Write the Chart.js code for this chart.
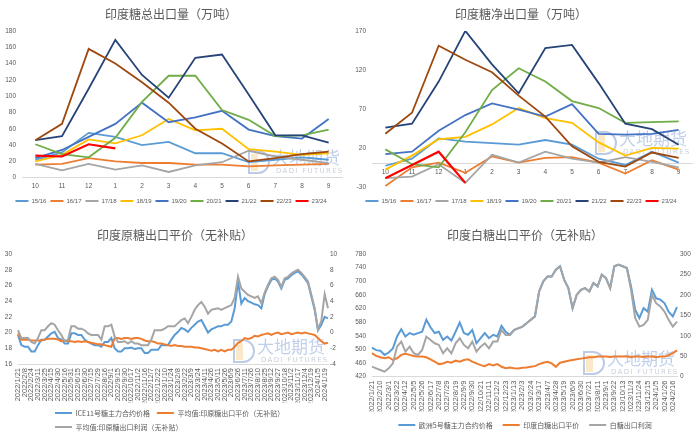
<!DOCTYPE html>
<html>
<head>
<meta charset="utf-8">
<script src="https://cdn.jsdelivr.net/npm/chart.js@4.4.1/dist/chart.umd.min.js"></script>
<style>
  body { margin: 0; background: #fff; }
  .grid { position: relative; width: 700px; height: 437px; overflow: hidden; }
  canvas { position: absolute; }
</style>
</head>
<body>
<div class="grid">
  <canvas id="c1" width="350" height="218" style="left:0;top:0"></canvas>
  <canvas id="c2" width="350" height="218" style="left:350px;top:0"></canvas>
  <canvas id="c3" width="350" height="219" style="left:0;top:218px"></canvas>
  <canvas id="c4" width="350" height="219" style="left:350px;top:218px"></canvas>
</div>
<script>
// ---- top charts: months of the season, one line per season
const months = ['10', '11', '12', '1', '2', '3', '4', '5', '6', '7', '8', '9'];
const seasons = ['15/16', '16/17', '17/18', '18/19', '19/20', '20/21', '21/22', '22/23', '23/24'];
const seasonColors = ['#5B9BD5', '#ED7D31', '#A5A5A5', '#FFC000', '#4472C4', '#70AD47', '#264478', '#9E480E', '#FF0000'];

// 总出口量 (万吨)
const total1516 = [22, 31, 55, 50, 40, 44, 30, 30, 19, 22, 25, 22];
const total1617 = [16, 17, 24, 20, 18, 18, 16, 16, 14, 15, 16, 17];
const total1718 = [17, 9, 17, 10, 15, 7, 15, 19, 33, 26, 22, 18];
const total1819 = [20, 28, 47, 42, 52, 72, 58, 60, 35, 32, 28, 30];
const total1920 = [24, 34, 50, 66, 92, 68, 74, 82, 59, 51, 48, 72];
const total2021 = [41, 29, 25, 49, 93, 125, 125, 83, 71, 51, 52, 59];
const total2122 = [46, 51, 109, 169, 126, 98, 147, 151, 102, 52, 52, 43];
const total2223 = [46, 66, 158, 140, 117, 92, 60, 42, 20, 24, 29, 32];
const total2324 = [27, 26, 41, 36];

// 净出口量 (万吨)
const net1516 = [-3, 6, 32, 28, 26, 24, 30, 24, 6, -2, 15, 1];
const net1617 = [-29, -5, 1, -12, 9, 1, 7, 8, 1, -13, 4, -8];
const net1718 = [-19, -17, -1, -25, 11, 1, 15, 6, 1, 8, 2, -5];
const net1819 = [-8, 10, 31, 34, 50, 71, 58, 52, 27, 10, 20, 19];
const net1920 = [12, 15, 42, 62, 77, 69, 60, 76, 38, 37, 38, 43];
const net2021 = [18, -1, -5, 40, 94, 122, 105, 80, 71, 52, 53, 54];
const net2122 = [46, 51, 105, 170, 127, 90, 148, 152, 103, 51, 44, 24];
const net2223 = [38, 65, 151, 133, 117, 87, 60, 22, 2, -4, 14, 7];
const net2324 = [-19, -2, 15, -25];
const netTicks = [-30, 20, 70, 120, 170];

// ---- bottom left: 原糖
const rawDates = [
  '2022/1/21', '2022/1/31', '2022/2/8', '2022/2/16', '2022/2/24', '2022/3/3', '2022/3/11', '2022/3/18',
  '2022/3/25', '2022/4/6', '2022/4/15', '2022/4/22', '2022/4/30', '2022/5/9', '2022/5/16', '2022/5/24',
  '2022/5/31', '2022/6/8', '2022/6/15', '2022/6/22', '2022/6/30', '2022/7/8', '2022/7/15', '2022/7/22',
  '2022/7/29', '2022/8/8', '2022/8/16', '2022/8/24', '2022/9/1', '2022/9/8', '2022/9/15', '2022/9/22',
  '2022/9/30', '2022/10/10', '2022/10/17', '2022/10/25', '2022/11/2', '2022/11/9', '2022/11/16', '2022/11/28',
  '2022/12/7', '2022/12/14', '2022/12/22', '2022/12/30', '2023/1/10', '2023/1/17', '2023/1/24', '2023/2/1',
  '2023/2/8', '2023/2/15', '2023/2/22', '2023/3/2', '2023/3/9', '2023/3/16', '2023/3/24', '2023/4/3',
  '2023/4/11', '2023/4/18', '2023/4/26', '2023/5/4', '2023/5/11', '2023/5/18', '2023/5/26', '2023/6/2',
  '2023/6/9', '2023/6/16', '2023/6/26', '2023/7/3', '2023/7/11', '2023/7/18', '2023/7/26', '2023/8/3',
  '2023/8/10', '2023/8/17', '2023/8/25', '2023/9/4', '2023/9/12', '2023/9/19', '2023/9/27', '2023/10/9',
  '2023/10/18', '2023/10/25', '2023/11/2', '2023/11/9', '2023/11/17', '2023/11/24', '2023/12/4', '2023/12/11',
  '2023/12/19', '2023/12/27', '2024/1/5', '2024/1/12', '2024/1/19', '2024/1/26'
];
const ice11 = [
  19.7, 18.4, 18.2, 18.2, 17.6, 17.6, 18.4, 19.1, 19.1, 19.5,
  19.9, 20.1, 19.3, 19.1, 18.6, 18.6, 19.9, 19.9, 19.7, 19.7,
  19.1, 18.8, 18.6, 18.4, 18.4, 18.2, 18.8, 18.8, 19.3, 18.0,
  17.6, 17.6, 18.0, 18.0, 18.1, 17.9, 18.0, 18.0, 17.4, 17.4,
  17.8, 17.8, 17.8, 18.4, 18.4, 18.4, 19.1, 19.7, 20.1, 20.6,
  20.4, 20.1, 20.6, 21.0, 21.4, 21.6, 20.8, 20.0, 20.4, 20.6,
  20.8, 20.8, 21.0, 21.0, 21.4, 23.1, 26.5, 23.7, 24.4, 24.0,
  23.8, 23.6, 23.5, 23.1, 24.9, 25.9, 26.7, 26.9, 26.5, 25.6,
  26.7, 26.9, 27.3, 27.6, 27.8, 27.4, 26.9, 26.3, 24.6, 22.9,
  20.3, 21.0, 22.0, 21.8
];
const rawParity = [
  19.9, 19.1, 19.1, 19.1, 19.0, 19.0, 19.0, 19.0, 19.1, 19.2,
  19.2, 19.2, 19.1, 18.9, 19.0, 18.9, 18.9, 18.8, 18.9, 18.8,
  18.9, 18.8, 18.7, 18.6, 18.5, 18.5, 18.4, 18.3, 18.2, 19.3,
  19.3, 19.2, 19.3, 19.3, 19.2, 19.3, 19.3, 19.2, 19.0, 18.9,
  18.9, 18.8, 18.6, 18.6, 18.5, 18.4, 18.3, 18.4, 18.3, 18.3,
  18.2, 18.2, 18.2, 18.1, 18.1, 18.0, 17.9, 17.8, 17.7, 17.8,
  17.6, 17.8, 17.6, 17.8, 17.8, 18.2, 18.7, 18.9, 19.3, 19.2,
  19.3, 19.6, 19.5, 19.7, 19.8, 19.9, 19.7, 19.9, 20.0, 19.8,
  19.9, 20.0, 19.8, 19.9, 20.0, 19.9, 20.0, 19.9, 19.8, 19.7,
  19.3, 18.9, 18.6, 18.7
];
const rawProfit = [
  0.3, -0.7, -0.7, -0.7, -1.2, -1.4, -0.7, 0.3, 0.3, 0.8,
  1.2, 1.0, 0.3, -0.3, -1.1, -0.9, 0.8, 0.8, 0.5, 0.5,
  0.3, -0.1, -0.3, -0.3, -0.3, -0.9, 0.8, 0.8, 1.0, -0.5,
  -1.2, -1.2, -1.1, -1.4, -1.1, -1.4, -1.4, -1.6, -1.6, -1.6,
  -0.9, 0.3, 0.3, 0.3, 0.5, 0.8, 0.8, 0.8, 1.2, 1.6,
  1.8, 1.2, 2.0, 2.9, 3.5, 3.9, 3.3, 2.4, 2.9, 3.0,
  3.1, 2.9, 3.1, 3.3, 3.5, 4.4, 7.1, 5.6, 5.2, 4.8,
  4.6, 4.4, 4.6, 3.7, 5.1, 6.1, 6.9, 7.1, 6.7, 5.8,
  6.9, 7.1, 7.5, 7.8, 8.0, 7.6, 7.1, 6.5, 4.8, 3.1,
  0.4, 1.5, 4.9, 3.1
];

// ---- bottom right: 白糖
const whiteDates = [
  '2022/1/21', '2022/1/31', '2022/2/10', '2022/2/18', '2022/3/1', '2022/3/11', '2022/3/22', '2022/3/31',
  '2022/4/12', '2022/4/22', '2022/5/5', '2022/5/16', '2022/5/26', '2022/6/7', '2022/6/17', '2022/6/27',
  '2022/7/8', '2022/7/19', '2022/7/29', '2022/8/9', '2022/8/19', '2022/8/30', '2022/9/9', '2022/9/20',
  '2022/9/30', '2022/10/11', '2022/10/21', '2022/11/1', '2022/11/11', '2022/11/22', '2022/12/2', '2022/12/13',
  '2022/12/23', '2023/1/3', '2023/1/13', '2023/1/24', '2023/2/3', '2023/2/14', '2023/2/24', '2023/3/7',
  '2023/3/17', '2023/3/28', '2023/4/7', '2023/4/18', '2023/4/28', '2023/5/9', '2023/5/19', '2023/5/30',
  '2023/6/9', '2023/6/20', '2023/6/30', '2023/7/11', '2023/7/21', '2023/8/1', '2023/8/11', '2023/8/22',
  '2023/9/1', '2023/9/12', '2023/9/22', '2023/10/3', '2023/10/13', '2023/10/24', '2023/11/3', '2023/11/14',
  '2023/11/24', '2023/12/5', '2023/12/15', '2023/12/26', '2024/1/5', '2024/1/16', '2024/1/26', '2024/2/6',
  '2024/2/16', '2024/2/28'
];
const london5 = [
  505, 498, 496, 484, 491, 503, 538, 559, 538, 548,
  543, 548, 552, 587, 565, 548, 552, 528, 538, 526,
  552, 579, 548, 543, 557, 518, 533, 548, 533, 543,
  538, 569, 552, 543, 557, 562, 567, 577, 587, 597,
  670, 700, 714, 714, 734, 744, 704, 680, 621, 660,
  675, 680, 670, 695, 685, 719, 709, 680, 744, 749,
  744, 739, 685, 616, 592, 621, 611, 675, 650, 646,
  636, 611, 597, 624
];
const whiteParity = [
  489, 481, 477, 474, 477, 469, 474, 484, 487, 484,
  481, 479, 479, 477, 471, 464, 457, 459, 464, 461,
  467, 464, 469, 471, 464, 459, 454, 451, 457, 453,
  457, 449, 445, 447, 445, 444, 446, 447, 449, 451,
  457, 461, 464, 459, 449, 461, 464, 467, 469, 471,
  473, 475, 477, 477, 479, 479, 479, 478, 479, 479,
  479, 479, 478, 479, 479, 478, 479, 479, 477, 479,
  479, 483, 489, 497
];
const whiteProfit = [
  24.5, 20.4, 16.4, 12.3, 20.4, 32.7, 73.6, 85.8, 61.3, 73.6,
  57.2, 53.2, 65.4, 98.1, 89.9, 81.7, 77.7, 57.2, 69.5, 57.2,
  81.7, 94.0, 77.7, 69.5, 85.8, 61.3, 73.6, 81.7, 69.5, 85.8,
  85.8, 114.4, 102.2, 102.2, 114.4, 118.5, 122.6, 130.8, 139.0, 147.1,
  208.5, 233.0, 245.2, 245.2, 261.6, 269.8, 237.1, 216.6, 167.6, 200.3,
  212.5, 216.6, 208.5, 228.9, 220.7, 249.3, 241.1, 216.6, 269.8, 273.8,
  269.8, 265.7, 212.5, 143.1, 122.6, 126.7, 139.0, 200.3, 179.8, 171.7,
  159.4, 139.0, 122.6, 134.9
];

const cjk = '"Noto Sans CJK SC", sans-serif';
Chart.defaults.font.family = '"Liberation Sans", "Noto Sans CJK SC", sans-serif';
Chart.defaults.color = '#595959';
Chart.defaults.animation = false;

// faint company logo behind the lines
const watermark = {
  id: 'watermark',
  beforeDatasetsDraw(chart, args, opts) {
    const ctx = chart.ctx, x = opts.x, y = opts.y;
    ctx.save();
    ctx.fillStyle = '#fbe8c8';
    ctx.fillRect(x + 3, y + 4, 7, 17);
    ctx.strokeStyle = '#bccbe6';
    ctx.lineWidth = 2;
    ctx.beginPath();
    ctx.moveTo(x + 1, y + 1);
    ctx.lineTo(x + 10, y + 1);
    ctx.arc(x + 10, y + 12, 11, -Math.PI / 2, Math.PI / 2);
    ctx.lineTo(x + 1, y + 23);
    ctx.closePath();
    ctx.stroke();
    ctx.fillStyle = '#c0d0ea';
    ctx.font = '17px ' + cjk;
    ctx.textBaseline = 'top';
    ctx.fillText('大地期货', x + 24, y - 1);
    ctx.fillStyle = '#c9d0da';
    ctx.font = '7px "DejaVu Sans"';
    ctx.letterSpacing = '1.3px';
    ctx.fillText('DADI FUTURES', x + 28, y + 18);
    ctx.restore();
  }
};

// row 2 of the raw sugar legend lines up under row 1
const legendShift = {
  id: 'legendShift',
  beforeDraw(chart, args, opts) {
    if (opts.left !== undefined) chart.legend.left = opts.left;
  }
};

function flatLegendItems(chart) {
  const items = Chart.defaults.plugins.legend.labels.generateLabels(chart);
  items.forEach(it => { it.lineWidth = 0; });
  return items;
}

function seasonSets(series) {
  return series.map((d, i) => ({
    label: seasons[i],
    data: d,
    borderColor: seasonColors[i],
    backgroundColor: seasonColors[i],
    borderWidth: i === 8 ? 2.2 : 1.8,
    pointRadius: 0,
    tension: 0,
    order: -i
  }));
}

function topOptions(title, yScale, xExtra, legendTitle, mark) {
  return {
    responsive: false,
    events: [],
    layout: { padding: { top: 7, left: 0, right: 8, bottom: 4 } },
    plugins: {
      title: { display: true, text: title, color: '#595959', font: { family: cjk, size: 12, weight: 'normal' }, padding: { top: 0, bottom: 9.5 } },
      legend: {
        position: 'bottom',
        title: legendTitle,
        labels: { boxWidth: 13, boxHeight: 2, padding: 4, color: '#595959', font: { size: 6 },
          generateLabels: flatLegendItems, sort: (a, b) => a.datasetIndex - b.datasetIndex }
      },
      tooltip: { enabled: false },
      watermark: mark
    },
    scales: {
      x: Object.assign({
        offset: true,
        grid: { display: false, drawTicks: false },
        border: { color: '#d9d9d9', width: 1 },
        ticks: { color: '#595959', font: { size: 6.5 }, padding: 5 }
      }, xExtra),
      y: yScale
    }
  };
}

new Chart(document.getElementById('c1'), {
  type: 'line',
  data: { labels: months, datasets: seasonSets([total1516, total1617, total1718, total1819, total1920, total2021, total2122, total2223, total2324]) },
  options: topOptions('印度糖总出口量（万吨）', {
    min: 0, max: 180,
    grid: { display: false, drawTicks: false },
    border: { display: false },
    ticks: { stepSize: 20, color: '#595959', font: { size: 6.5 }, padding: 6 },
    afterFit(s) { s.width = 22; }
  }, { afterFit(s) { s.height = 16.3; } }, { display: false }, { x: 248, y: 150 }),
  plugins: [watermark]
});

new Chart(document.getElementById('c2'), {
  type: 'line',
  data: { labels: months, datasets: seasonSets([net1516, net1617, net1718, net1819, net1920, net2021, net2122, net2223, net2324]) },
  options: topOptions('印度糖净出口量（万吨）', {
    min: -30, max: 170,
    grid: { display: false, drawTicks: false },
    border: { display: false },
    ticks: { color: '#595959', font: { size: 6.5 }, padding: 6 },
    afterBuildTicks(s) { s.ticks = netTicks.map(v => ({ value: v })); },
    afterFit(s) { s.width = 22; }
  }, { position: { y: 0 } }, { display: true, text: '', padding: 0, font: { size: 6 } }, { x: 245, y: 131 }),
  plugins: [watermark]
});

function bottomScales(dates, left, right, leftWidth, rightWidth, xHeight) {
  return {
    x: {
      grid: { display: false, drawTicks: false },
      border: { color: '#d9d9d9', width: 1 },
      ticks: {
        autoSkip: false, minRotation: 90, maxRotation: 90, padding: 4,
        color: '#595959', font: { size: 7.5 },
        callback: (v, i) => (i % 2 === 0 ? dates[i] : '')
      },
      afterFit(s) { s.height = xHeight; }
    },
    y: Object.assign({
      position: 'left',
      grid: { display: false, drawTicks: false },
      border: { display: false },
      afterFit(s) { s.width = leftWidth; }
    }, left),
    y1: Object.assign({
      position: 'right',
      grid: { display: false, drawTicks: false },
      border: { display: false },
      afterFit(s) { s.width = rightWidth; }
    }, right)
  };
}

function bottomOptions(title, scales, legend, legendPad, bottomPad, mark, shift) {
  return {
    responsive: false,
    events: [],
    layout: { padding: { top: 10, left: 0, right: 0, bottom: bottomPad } },
    plugins: {
      title: { display: true, text: title, color: '#595959', font: { family: cjk, size: 12, weight: 'normal' }, padding: { top: 0, bottom: 11.6 } },
      legend: Object.assign({
        position: 'bottom',
        labels: { boxWidth: 17, boxHeight: 2, padding: legendPad, color: '#595959', font: { family: cjk, size: 7 },
          generateLabels: flatLegendItems, sort: (a, b) => a.datasetIndex - b.datasetIndex }
      }, legend),
      tooltip: { enabled: false },
      watermark: mark,
      legendShift: shift
    },
    scales: scales
  };
}

new Chart(document.getElementById('c3'), {
  type: 'line',
  data: {
    labels: rawDates,
    datasets: [
      { label: 'ICE11号糖主力合约价格', data: ice11, yAxisID: 'y', borderColor: '#5B9BD5', backgroundColor: '#5B9BD5', borderWidth: 2, pointRadius: 0, order: 0 },
      { label: '平均值:印原糖出口平价（无补贴）', data: rawParity, yAxisID: 'y', borderColor: '#ED7D31', backgroundColor: '#ED7D31', borderWidth: 2, pointRadius: 0, order: -1 },
      { label: '平均值:印原糖出口利润（无补贴）', data: rawProfit, yAxisID: 'y1', borderColor: '#A5A5A5', backgroundColor: '#A5A5A5', borderWidth: 2, pointRadius: 0, order: -2 }
    ]
  },
  options: bottomOptions('印度原糖出口平价（无补贴）',
    bottomScales(rawDates,
      { min: 16, max: 30, ticks: { stepSize: 2, color: '#595959', font: { size: 6.5 }, padding: 6 } },
      { min: -4, max: 10, ticks: { stepSize: 2, color: '#595959', font: { size: 6.5 }, padding: 2 } },
      18, 22, 38.5),
    { align: 'start' }, 7, -3.5, { x: 233, y: 121 }, { left: 48 }),
  plugins: [watermark, legendShift]
});

new Chart(document.getElementById('c4'), {
  type: 'line',
  data: {
    labels: whiteDates,
    datasets: [
      { label: '欧洲5号糖主力合约价格', data: london5, yAxisID: 'y', borderColor: '#5B9BD5', backgroundColor: '#5B9BD5', borderWidth: 2, pointRadius: 0, order: 0 },
      { label: '印度白糖出口平价', data: whiteParity, yAxisID: 'y', borderColor: '#ED7D31', backgroundColor: '#ED7D31', borderWidth: 2, pointRadius: 0, order: -1 },
      { label: '白糖出口利润', data: whiteProfit, yAxisID: 'y1', borderColor: '#A5A5A5', backgroundColor: '#A5A5A5', borderWidth: 2, pointRadius: 0, order: -2 }
    ]
  },
  options: bottomOptions('印度白糖出口平价（无补贴）',
    bottomScales(whiteDates,
      { min: 420, max: 780, ticks: { stepSize: 40, color: '#595959', font: { size: 6.5 }, padding: 6 } },
      { min: 0, max: 300, ticks: { stepSize: 50, color: '#595959', font: { size: 6.5 }, padding: 3 } },
      22, 23, 34.8),
    { align: 'center' }, 10, -1.5, { x: 233, y: 133 }, {}),
  plugins: [watermark, legendShift]
});
</script>
</body>
</html>
